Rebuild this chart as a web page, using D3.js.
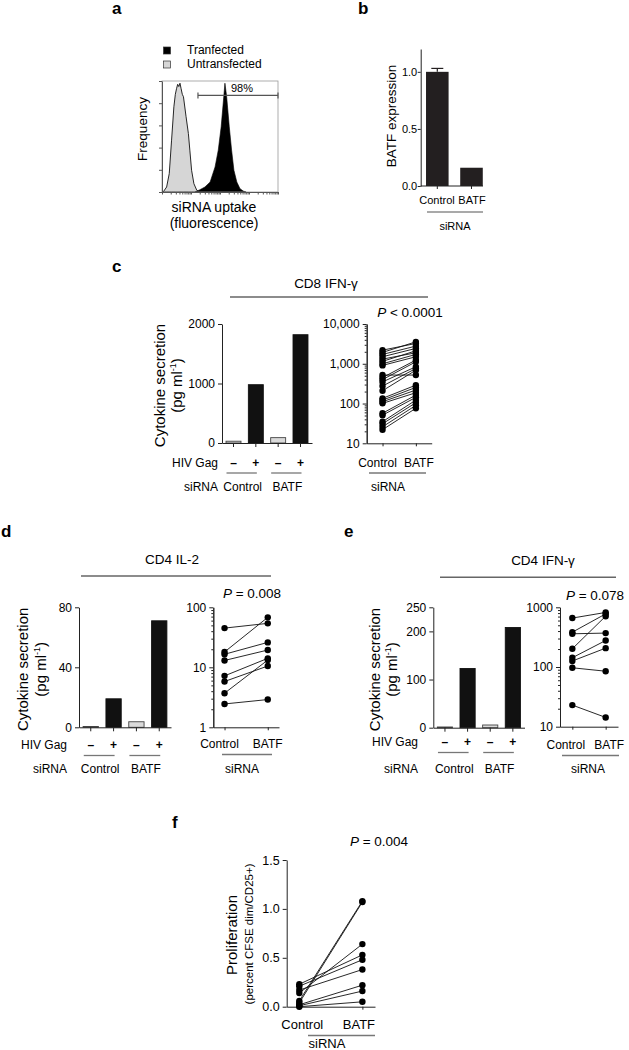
<!DOCTYPE html>
<html><head><meta charset="utf-8">
<script src="https://cdn.jsdelivr.net/npm/d3@7"></script>
<style>
body{margin:0;background:#fff}
svg{display:block}
text{font-family:"Liberation Sans",Arial,Helvetica,sans-serif;fill:#000}
</style>
</head><body>
<svg id="fig" width="629" height="1050"></svg>
<script>
// ---------------- DATA ----------------
// Panel a: flow histograms (x = log10 fluorescence, y = % of max frequency)
const aUntransLog  = [0.04,0.16,0.25,0.33,0.41,0.46,0.50,0.54,0.58,0.62,0.66,0.70,0.74,0.83,0.91,0.96,1.02,1.10,1.20,1.31];
const aUntransFreq = [0,4.5,16.6,46.7,76.8,88,93,97,95,98,93,88,85.8,67.8,52.7,37.7,19.6,7.5,1.5,0];
const aTransLog    = [1.14,1.31,1.48,1.66,1.83,1.94,2.04,2.12,2.17,2.23,2.32,2.40,2.48,2.58,2.69,2.80,2.90];
const aTransFreq   = [0,2.1,4.5,9,22.6,37.7,58.7,82.8,98,85.8,58.7,37.7,19.6,9,3,0.9,0];
const aLegend = ["Tranfected","Untransfected"];
const aGate = [1.24, 4.0];
const aGateLevel = 87;
const aGateText = "98%";

// Panel b
const bCats = ["Control","BATF"];
const bValues = [1.0, 0.16];
const bErrors = [0.03, 0];
const bTicks = [0, 0.5, 1.0];

// shared categories
const sirnaGroups = ["Control","BATF"];
const hivGag = ["–","+","–","+"];

// Panel c
const cBars = [30, 980, 90, 1820];
const cBarTicks = [0, 1000, 2000];
const cCtrl = [2200,1930,1720,1500,1310,1150,1000,910,520,450,400,350,275,210,135,122,111,101,57,51,35,31,26,22];
const cBatf = [3240,3560,2780,2430,1890,2120,1720,1500,520,1240,1120,840,760,690,290,254,218,187,163,143,122,105,90,76];
const cLogTicks = [10, 100, 1000, 10000];

// Panel d
const dBars = [0.5, 19, 3.7, 71];
const dBarTicks = [0, 40, 80];
const dCtrl = [45, 18, 16.5, 13, 7.2, 5.8, 3.7, 2.45];
const dBatf = [54, 68, 26, 19.4, 14.1, 10.5, 13.2, 2.9];
const dLogTicks = [1, 10, 100];

// Panel e
const eBars = [1.5, 123, 5.6, 208];
const eBarTicks = [0, 100, 200, 250];
const eCtrl = [660, 383, 360, 202, 143, 126, 97, 23];
const eBatf = [820, 776, 370, 710, 278, 207, 85, 14.3];
const eLogTicks = [10, 100, 1000];

// Panel f
const fCtrl = [0.23, 0.21, 0.17, 0.14, 0.06, 0.04, 0.02, 0.01, 0.00];
const fBatf = [0.53, 0.48, 0.38, 0.64, 1.08, 1.07, 0.22, 0.16, 0.05];
const fTicks = [0, 0.5, 1.0, 1.5];

// ---------------- HELPERS ----------------
const svg = d3.select("#fig");
const AX = "#222";

function txt(g, x, y, s, size, anchor = "middle", weight = "normal") {
  return g.append("text").attr("x", x).attr("y", y).attr("font-size", size)
    .attr("text-anchor", anchor).attr("font-weight", weight).text(s);
}
function pText(g, x, y, rest) {
  const t = g.append("text").attr("x", x).attr("y", y).attr("text-anchor", "middle").attr("font-size", 13.5);
  t.append("tspan").attr("font-style", "italic").text("P");
  t.append("tspan").text(rest);
}
function hline(g, x1, x2, y, color = "#666", w = 1.4) {
  g.append("line").attr("x1", x1).attr("x2", x2).attr("y1", y).attr("y2", y)
    .attr("stroke", color).attr("stroke-width", w);
}
function styleAxis(a, fs = 11.5) {
  a.selectAll("path,line").attr("stroke", AX).attr("stroke-width", 1);
  a.selectAll("text").attr("font-family", '"Liberation Sans",Arial,sans-serif').attr("fill", "#000").attr("font-size", fs);
  a.attr("font-size", fs);
}
function rotText(g, x, y, s, size) {
  return g.append("text").attr("transform", `translate(${x},${y}) rotate(-90)`)
    .attr("text-anchor", "middle").attr("font-size", size).text(s);
}
function cytoLabel(g, x1, x2, cy) {
  rotText(g, x1, cy, "Cytokine secretion", 15);
  const t = g.append("text").attr("transform", `translate(${x2},${cy}) rotate(-90)`)
    .attr("text-anchor", "middle").attr("font-size", 15);
  t.append("tspan").text("(pg ml");
  t.append("tspan").attr("font-size", 9).attr("dy", -6).text("-1");
  t.append("tspan").attr("dy", 6).text(")");
}

// ---------------- PANEL a ----------------
(function () {
  const g = svg.append("g");
  txt(g, 112, 14, "a", 17, "start", "bold");
  const x = d3.scaleLinear().domain([0, 4]).range([162, 278]);
  const y = d3.scaleLinear().domain([0, 100]).range([192, 81]);
  const xl = d3.scaleLog().domain([1, 1e4]).range([162, 278]);

  const area = d3.area().x(d => x(d[0])).y0(y(0)).y1(d => y(d[1]));
  g.append("path").datum(aUntransLog.map((v, i) => [v, aUntransFreq[i]]))
    .attr("d", area).attr("fill", "#d6d6d6").attr("stroke", "#111").attr("stroke-width", 0.9);
  g.append("path").datum(aTransLog.map((v, i) => [v, aTransFreq[i]]))
    .attr("d", area).attr("fill", "#000").attr("stroke", "#000").attr("stroke-width", 0.6);

  g.append("rect").attr("x", x(0)).attr("y", y(100)).attr("width", x(4) - x(0)).attr("height", y(0) - y(100))
    .attr("fill", "none").attr("stroke", "#999").attr("stroke-width", 0.8);
  const ya = g.append("g").attr("transform", `translate(${x(0)},0)`)
    .call(d3.axisLeft(y).tickValues([0, 20, 40, 60, 80, 100]).tickSize(3).tickSizeOuter(0).tickFormat(""));
  styleAxis(ya);
  ya.selectAll("path,line").attr("stroke", "#555");
  const xa = g.append("g").attr("transform", `translate(0,${y(0)})`)
    .call(d3.axisBottom(xl).tickValues(xl.ticks()).tickSize(2.5).tickSizeOuter(0).tickFormat(""));
  styleAxis(xa);
  xa.selectAll("path,line").attr("stroke", "#555");

  // gate
  const gy = y(aGateLevel);
  g.append("line").attr("x1", x(aGate[0])).attr("x2", x(aGate[1])).attr("y1", gy).attr("y2", gy).attr("stroke", "#555").attr("stroke-width", 1.2);
  aGate.forEach(v => g.append("line").attr("x1", x(v)).attr("x2", x(v)).attr("y1", gy - 3).attr("y2", gy + 3).attr("stroke", "#555").attr("stroke-width", 1.2));
  txt(g, (x(aGate[0]) + x(aGate[1])) / 2 + 4, gy - 3, aGateText, 11).attr("fill", "#333");

  // legend
  const fills = ["#000", "#d6d6d6"];
  aLegend.forEach((s, i) => {
    g.append("rect").attr("x", 163.5).attr("y", 47 + i * 14).attr("width", 7).attr("height", 7)
      .attr("fill", fills[i]).attr("stroke", "#333").attr("stroke-width", 0.7);
    txt(g, 187, 54 + i * 14, s, 12, "start");
  });
  rotText(g, 147, 129, "Frequency", 13.5);
  txt(g, 214, 212, "siRNA uptake", 14);
  txt(g, 214, 228, "(fluorescence)", 14);
})();

// ---------------- PANEL b ----------------
(function () {
  const g = svg.append("g");
  txt(g, 358, 14, "b", 17, "start", "bold");
  const x0 = 420.7, xEnd = 483, yB = 186;
  const x = d3.scaleBand().domain(bCats).range([422.6, 486.2]).paddingInner(0.34).paddingOuter(0.1);
  const y = d3.scaleLinear().domain([0, 1.2]).range([yB, 49]);
  g.selectAll("rect.b").data(bValues).enter().append("rect")
    .attr("x", (d, i) => x(bCats[i])).attr("width", x.bandwidth())
    .attr("y", d => y(d)).attr("height", d => yB - y(d)).attr("fill", "#231f20");
  bValues.forEach((v, i) => {
    if (bErrors[i] > 0) {
      const cx = x(bCats[i]) + x.bandwidth() / 2;
      g.append("line").attr("x1", cx).attr("x2", cx).attr("y1", y(v)).attr("y2", y(v + bErrors[i])).attr("stroke", "#231f20").attr("stroke-width", 1.2);
      g.append("line").attr("x1", cx - 6).attr("x2", cx + 6).attr("y1", y(v + bErrors[i])).attr("y2", y(v + bErrors[i])).attr("stroke", "#231f20").attr("stroke-width", 1.2);
    }
  });
  const ya = g.append("g").attr("transform", `translate(${x0},0)`)
    .call(d3.axisLeft(y).tickValues(bTicks).tickSize(3).tickSizeOuter(0).tickFormat(d3.format(".1f")));
  styleAxis(ya, 11);
  ya.selectAll("text").attr("x", -3.5);
  const xa = g.append("g").attr("transform", `translate(0,${yB})`)
    .call(d3.axisBottom(x).tickSize(3).tickSizeOuter(0).tickFormat(""));
  styleAxis(xa);
  xa.select(".domain").remove();
  g.append("line").attr("x1", x0).attr("x2", xEnd).attr("y1", yB).attr("y2", yB).attr("stroke", AX);
  txt(g, 437, 204, bCats[0], 11);
  txt(g, 472, 204, bCats[1], 11);
  hline(g, 427, 483, 212, "#555", 1.2);
  txt(g, 455, 230, "siRNA", 11);
  rotText(g, 396, 116, "BATF expression", 13.5);
})();

// ---------------- BAR PANEL ----------------
function barPanel(cfg) {
  const g = svg.append("g");
  const idx = d3.range(cfg.values.length);
  const x = d3.scaleBand().domain(idx).range([cfg.x0, cfg.x1]).paddingInner(0.33).paddingOuter(0.18);
  const y = d3.scaleLinear().domain([0, cfg.max]).range([cfg.yB, cfg.yT]);
  g.selectAll("rect.bar").data(cfg.values).enter().append("rect")
    .attr("x", (d, i) => x(i)).attr("width", x.bandwidth())
    .attr("y", d => y(d)).attr("height", d => Math.max(0.6, cfg.yB - y(d)))
    .attr("fill", (d, i) => hivGag[i] === "+" ? "#111" : "#dadada")
    .attr("stroke", (d, i) => hivGag[i] === "+" ? "#111" : "#444").attr("stroke-width", 0.9);
  const ya = g.append("g").attr("transform", `translate(${cfg.x0},0)`)
    .call(d3.axisLeft(y).tickValues(cfg.ticks).tickSize(4).tickSizeOuter(0).tickFormat(d3.format("d")));
  styleAxis(ya, 12);
  const xa = g.append("g").attr("transform", `translate(0,${cfg.yB})`)
    .call(d3.axisBottom(x).tickSize(4).tickSizeOuter(0).tickFormat(""));
  styleAxis(xa);
  txt(g, cfg.labelX, cfg.gagY, "HIV Gag", 12, "end");
  idx.forEach(i => txt(g, x(i) + x.bandwidth() / 2, cfg.gagY, hivGag[i], 12, "middle", "bold"));
  txt(g, cfg.labelX, cfg.sirY, "siRNA", 12, "end");
  sirnaGroups.forEach((s, k) => {
    const c1 = x(2 * k) + x.bandwidth() / 2, c2 = x(2 * k + 1) + x.bandwidth() / 2;
    hline(g, c1 - 7, c2 + 1, cfg.gagY + 6.5, "#777", 1.3);
    txt(g, (c1 + c2) / 2 - 2, cfg.sirY, s, 12);
  });
  cytoLabel(g, cfg.yl1, cfg.yl2, (cfg.yB + cfg.yT) / 2 + 2);
  return g;
}

// ---------------- DOT PANEL ----------------
function dotPanel(cfg) {
  const g = svg.append("g");
  const x = d3.scalePoint().domain(sirnaGroups).range([cfg.x0, cfg.x1]).padding(cfg.pad);
  const y = cfg.log
    ? d3.scaleLog().domain(cfg.domain).range([cfg.yB, cfg.yT])
    : d3.scaleLinear().domain(cfg.domain).range([cfg.yB, cfg.yT]);
  if (cfg.log) {
    const minor = g.append("g").attr("transform", `translate(${cfg.x0},0)`)
      .call(d3.axisLeft(y).tickValues(y.ticks().filter(v => !cfg.ticks.includes(v))).tickSize(2).tickSizeOuter(0).tickFormat(""));
    styleAxis(minor);
  }
  const ya = g.append("g").attr("transform", `translate(${cfg.x0},0)`)
    .call(d3.axisLeft(y).tickValues(cfg.ticks).tickSize(4).tickSizeOuter(0).tickFormat(cfg.fmt));
  styleAxis(ya, cfg.fs || 12);
  const xa = g.append("g").attr("transform", `translate(0,${cfg.yB})`)
    .call(d3.axisBottom(x).tickSize(3).tickSizeOuter(0).tickFormat(""));
  styleAxis(xa);
  cfg.ctrl.forEach((c, i) => {
    g.append("line").attr("x1", x("Control")).attr("y1", y(c)).attr("x2", x("BATF")).attr("y2", y(cfg.batf[i]))
      .attr("stroke", "#111").attr("stroke-width", 0.9);
  });
  const pts = [];
  cfg.ctrl.forEach(c => pts.push([x("Control"), y(c)]));
  cfg.batf.forEach(b => pts.push([x("BATF"), y(b)]));
  g.selectAll("circle").data(pts).enter().append("circle")
    .attr("cx", d => d[0]).attr("cy", d => d[1]).attr("r", cfg.r || 3.2).attr("fill", "#000");
  txt(g, x("Control") + cfg.lblOff[0], cfg.catY, "Control", cfg.catFs || 12);
  txt(g, x("BATF") + cfg.lblOff[1], cfg.catY, "BATF", cfg.catFs || 12);
  hline(g, cfg.ul[0], cfg.ul[1], cfg.catY + 6.5, "#777", 1.3);
  txt(g, cfg.sirX, cfg.sirY, "siRNA", cfg.catFs || 12);
  pText(g, cfg.pX, cfg.pY, cfg.pRest);
  return g;
}

// ---------------- PANEL c ----------------
(function () {
  const g = svg.append("g");
  txt(g, 112, 272, "c", 17, "start", "bold");
  txt(g, 326, 288, "CD8 IFN-γ", 13.5);
  hline(g, 230, 428, 297);
})();
barPanel({ values: cBars, max: 2000, ticks: cBarTicks, x0: 222, x1: 312, yB: 443, yT: 324,
  labelX: 218, gagY: 466.5, sirY: 491, yl1: 164.5, yl2: 182 });
dotPanel({ log: true, domain: [10, 10000], ticks: cLogTicks, fmt: d3.format(","), ctrl: cCtrl, batf: cBatf,
  x0: 366.7, x1: 431.7, pad: 0.475, yB: 443.3, yT: 324, catY: 466.5, lblOff: [-5, 3], ul: [369, 426],
  sirX: 388, sirY: 491, pX: 410, pY: 317, pRest: " < 0.0001" });

// ---------------- PANEL d ----------------
(function () {
  const g = svg.append("g");
  txt(g, 1, 537, "d", 17, "start", "bold");
  txt(g, 172, 564, "CD4 IL-2", 13.5);
  hline(g, 81, 271, 576);
})();
barPanel({ values: dBars, max: 80, ticks: dBarTicks, x0: 79, x1: 171, yB: 727.3, yT: 607.3,
  labelX: 67, gagY: 749, sirY: 773, yl1: 28, yl2: 46 });
dotPanel({ log: true, domain: [1, 100], ticks: dLogTicks, fmt: d3.format("d"), ctrl: dCtrl, batf: dBatf,
  x0: 213.3, x1: 279, pad: 0.26, yB: 727.3, yT: 607.3, catY: 748, lblOff: [-5, 0], ul: [222, 272],
  sirX: 242, sirY: 773, pX: 252, pY: 598, pRest: " = 0.008" });

// ---------------- PANEL e ----------------
(function () {
  const g = svg.append("g");
  txt(g, 344, 537, "e", 17, "start", "bold");
  txt(g, 543, 565, "CD4 IFN-γ", 13.5);
  hline(g, 440, 616, 577.3);
})();
barPanel({ values: eBars, max: 250, ticks: eBarTicks, x0: 433.3, x1: 524.5, yB: 727.7, yT: 607.3,
  labelX: 418, gagY: 746, sirY: 773, yl1: 380, yl2: 397 });
dotPanel({ log: true, domain: [10, 1000], ticks: eLogTicks, fmt: d3.format("d"), ctrl: eCtrl, batf: eBatf,
  x0: 560, x1: 618, pad: 0.37, yB: 726.7, yT: 607.3, catY: 749, lblOff: [-6.5, 3.5], ul: [562, 619],
  sirX: 588, sirY: 773, pX: 595, pY: 600, pRest: " = 0.078" });

// ---------------- PANEL f ----------------
(function () {
  const g = svg.append("g");
  txt(g, 172, 828, "f", 17, "start", "bold");
  rotText(g, 237, 935, "Proliferation", 15);
  rotText(g, 252.5, 934, "(percent CFSE dim/CD25+)", 11.5);
})();
dotPanel({ log: false, domain: [0, 1.5], ticks: fTicks, fmt: d3.format(".1f"), ctrl: fCtrl, batf: fBatf,
  x0: 286.7, x1: 375, pad: 0.2, yB: 1006.7, yT: 860, catY: 1029, lblOff: [3, -3.5], ul: [308, 375],
  sirX: 327, sirY: 1048, pX: 379, pY: 846, pRest: " = 0.004", fs: 12.5, catFs: 13 });
</script>
</body></html>
